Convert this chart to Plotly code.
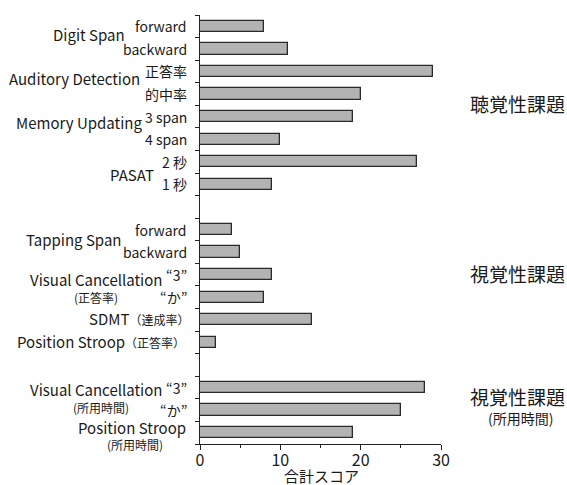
import plotly.graph_objects as go

# ---- data ----
auditory_items = ["forward", "backward", "正答率", "的中率", "3 span", "4 span", "2 秒", "1 秒"]
auditory_scores = [8, 11, 29, 20, 19, 10, 27, 9]
visual_items = ["forward", "backward", "“3”", "“か”", "", ""]
visual_scores = [4, 5, 9, 8, 14, 2]
time_items = ["“3”", "“か”", ""]
time_scores = [28, 25, 19]
x_tick_vals = [0, 10, 20, 30]
x_title = "合計スコア"
section_titles = ["聴覚性課題", "視覚性課題", "視覚性課題"]
section_note = "(所用時間)"

# ---- layout geometry (pixels) ----
W, H = 567, 485
L, R, T, B = 200, 441, 15, 444
FONT = "Noto Sans CJK JP"
TXT = "#1a1a1a"

def px(x):
    return (x - L) / (R - L)

def py(y):
    return (B - y) / (B - T)

# row positions with one empty slot between sections
aud_pos = list(range(len(auditory_items)))
vis_start = len(auditory_items) + 1
vis_pos = [vis_start + i for i in range(len(visual_items))]
time_start = vis_pos[-1] + 2
time_pos = [time_start + i for i in range(len(time_items))]
n_slots = time_pos[-1] + 1

positions = aud_pos + vis_pos + time_pos
scores = auditory_scores + visual_scores + time_scores
items = auditory_items + visual_items + time_items

fig = go.Figure()
fig.add_trace(go.Bar(
    x=scores, y=positions, orientation="h", width=0.5,
    marker=dict(color="#b3b3b3", line=dict(color="#2a2a2a", width=1.3)),
    hoverinfo="x",
))

ann = []

def add(text, x, y, size, anchor="center"):
    ann.append(dict(text=text, x=px(x), y=py(y), xref="paper", yref="paper",
                    xanchor=anchor, yanchor="middle", showarrow=False,
                    font=dict(family=FONT, size=size, color=TXT)))

# sub-item labels (right aligned next to the axis)
for p, t in zip(positions, items):
    if t:
        ann.append(dict(text=t, x=0, y=p, xref="paper", yref="y", showarrow=False,
                        xanchor="right", yanchor="middle", xshift=-11,
                        font=dict(family=FONT, size=14, color=TXT)))

# group labels
add("Digit Span", 89, 34, 15)
add("Auditory Detection", 75, 78, 15)
add("Memory Updating", 79, 122, 15)
add("PASAT", 132, 174, 15)
add("Tapping Span", 74, 239, 15)
add("Visual Cancellation", 96, 279, 15)
add("(正答率)", 96, 297, 12)
add("SDMT<span style='font-size:12px'>（達成率）</span>", 191, 318, 15, "right")
add("Position Stroop<span style='font-size:12px'>（正答率）</span>", 187, 341, 15, "right")
add("Visual Cancellation", 96, 389, 15)
add("(所用時間)", 101, 407, 12)
add("Position Stroop", 188, 427, 15, "right")
add("(所用時間)", 135, 444, 12)

# section titles on the right
add(section_titles[0], 517, 103, 19)
add(section_titles[1], 517, 273, 19)
add(section_titles[2], 517, 396, 19)
add(section_note, 520, 418, 14)

# x axis title
add(x_title, 321, 475, 15)

fig.update_layout(
    width=W, height=H,
    margin=dict(l=L, r=W - R, t=T, b=H - B),
    plot_bgcolor="white", paper_bgcolor="white",
    showlegend=False, bargap=0,
    annotations=ann,
    xaxis=dict(range=[0, 30], tickvals=x_tick_vals, ticks="outside", ticklen=5,
               tickcolor="#222", showline=True, linecolor="#222", linewidth=1.3,
               showgrid=False, zeroline=False, ticklabelstandoff=-3,
               tickfont=dict(family=FONT, size=16, color=TXT),
               minor=dict(ticks="outside", ticklen=3, dtick=5, tick0=0, tickcolor="#222")),
    yaxis=dict(range=[n_slots - 0.5, -0.5], tickvals=[i - 0.5 for i in range(n_slots + 1)],
               ticks="outside", ticklen=4, tickcolor="#222", showticklabels=False,
               showline=True, linecolor="#222", linewidth=1.3, showgrid=False, zeroline=False),
)

fig.write_html("out.html", config={"displayModeBar": False},
               post_script="document.body.style.margin='0';")
